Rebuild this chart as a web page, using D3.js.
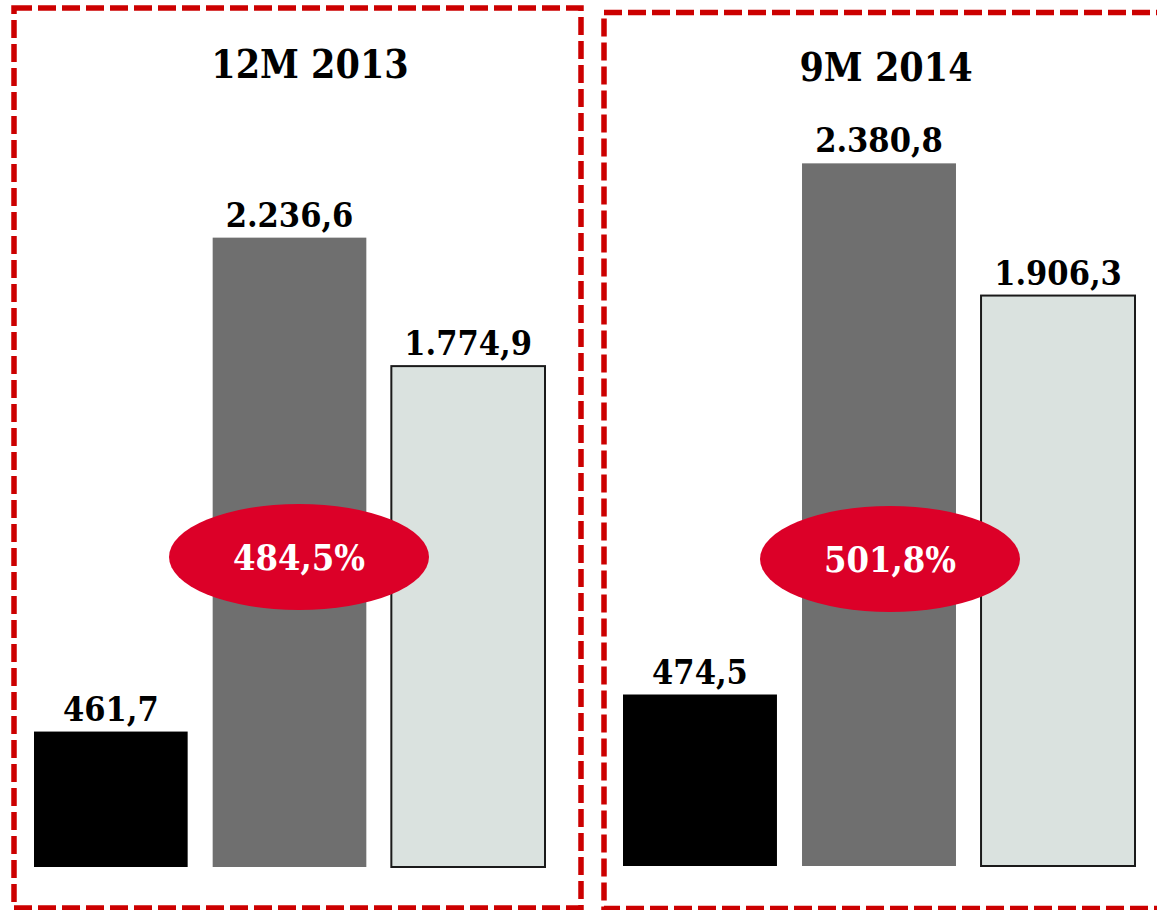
<!DOCTYPE html>
<html>
<head>
<meta charset="utf-8">
<script src="https://cdn.jsdelivr.net/npm/d3@7"></script>
<style>
  body { margin: 0; background: #fff; }
  text { font-family: "DejaVu Serif Condensed", "DejaVu Serif", serif; font-stretch: condensed; font-weight: bold; }
</style>
</head>
<body>
<script>
// Data
var periods = ["12M 2013", "9M 2014"];
var categories = ["a", "b", "c"];
var values2013 = [461.7, 2236.6, 1774.9];
var values2014 = [474.5, 2380.8, 1906.3];
var labels2013 = ["461,7", "2.236,6", "1.774,9"];
var labels2014 = ["474,5", "2.380,8", "1.906,3"];
var ratios = ["484,5%", "501,8%"];

var width = 1157,
    height = 910;

var colors = ["#000000", "#6f6f6f", "#dae2df"];

var svg = d3.select("body").append("svg")
    .attr("width", width)
    .attr("height", height);

// one panel per period
var panels = [
  { title: periods[0], values: values2013, labels: labels2013, ratio: ratios[0],
    box: [14, 8, 567, 900], xr: [34, 545], yd: [-25, 2300], yr: [867, 220],
    titleX: 310, titleY: 78, ell: [299, 557] },
  { title: periods[1], values: values2014, labels: labels2014, ratio: ratios[1],
    box: [604, 12.5, 580, 896], xr: [623, 1135], yd: [-141, 2400], yr: [866, 158],
    titleX: 886, titleY: 81, ell: [890, 559] }
];

panels.forEach(function(p) {
  var g = svg.append("g");

  var x = d3.scaleBand()
      .domain(categories)
      .range(p.xr)
      .paddingInner(0.14);

  var y = d3.scaleLinear()
      .domain(p.yd)
      .range(p.yr);

  // dashed frame
  g.append("rect")
      .attr("x", p.box[0]).attr("y", p.box[1])
      .attr("width", p.box[2]).attr("height", p.box[3])
      .attr("fill", "none")
      .attr("stroke", "#cc0000")
      .attr("stroke-width", 5.5)
      .attr("stroke-dasharray", "18,6");

  g.append("text")
      .attr("x", p.titleX)
      .attr("y", p.titleY)
      .attr("text-anchor", "middle")
      .attr("font-size", 39)
      .text(p.title);

  g.selectAll("rect.bar")
    .data(p.values)
    .enter()
    .append("rect")
      .attr("class", "bar")
      .attr("x", function(d, i) { return x(categories[i]); })
      .attr("y", function(d) { return y(d); })
      .attr("width", x.bandwidth())
      .attr("height", function(d) { return y(p.yd[0]) - y(d); })
      .attr("fill", function(d, i) { return colors[i]; })
      .attr("stroke", function(d, i) { return i == 2 ? "#1a1a1a" : "none"; })
      .attr("stroke-width", 2);

  g.selectAll("text.val")
    .data(p.values)
    .enter()
    .append("text")
      .attr("class", "val")
      .attr("x", function(d, i) { return x(categories[i]) + x.bandwidth() / 2; })
      .attr("y", function(d) { return y(d) - 11; })
      .attr("text-anchor", "middle")
      .attr("font-size", 34)
      .text(function(d, i) { return p.labels[i]; });

  g.append("ellipse")
      .attr("cx", p.ell[0]).attr("cy", p.ell[1])
      .attr("rx", 130).attr("ry", 53)
      .attr("fill", "#dc0028");

  g.append("text")
      .attr("x", p.ell[0])
      .attr("y", p.ell[1] + 13)
      .attr("text-anchor", "middle")
      .attr("font-size", 36)
      .attr("fill", "#fff")
      .text(p.ratio);
});
</script>
</body>
</html>
